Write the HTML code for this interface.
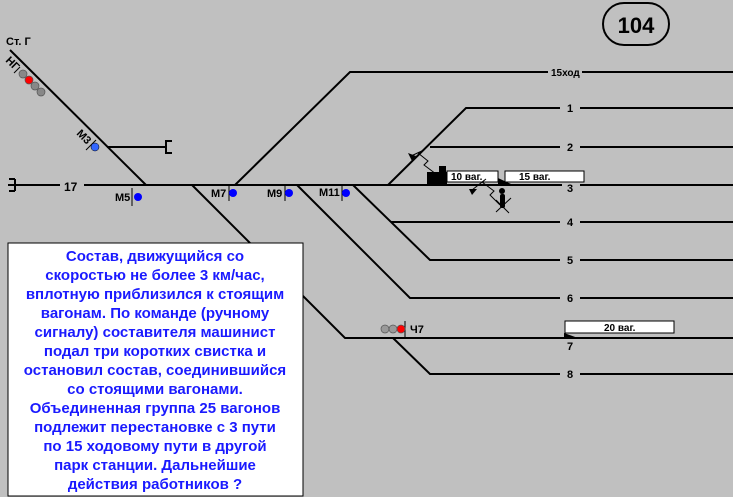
<!DOCTYPE html>
<html><head><meta charset="utf-8"><style>
body{margin:0;background:#c0c0c0;}
svg{display:block;}
text{font-family:"Liberation Sans",Arial,sans-serif;}
</style></head><body>
<svg width="733" height="497" viewBox="0 0 733 497" xmlns="http://www.w3.org/2000/svg">
<rect width="733" height="497" fill="#c0c0c0"/>
<g stroke="#000" stroke-width="2" fill="none">
<line x1="8" y1="185" x2="60" y2="185"/>
<line x1="84" y1="185" x2="562" y2="185"/>
<line x1="580" y1="185" x2="733" y2="185"/>
<path d="M15 179 h-6 M15 179 v12 M15 191 h-6" stroke-width="2"/>
<line x1="10" y1="50" x2="146" y2="185"/>
<line x1="107" y1="147" x2="166" y2="147"/>
<path d="M172 141 h-6 v12 h6"/>
<polyline points="235,185 350,72 548,72"/>
<line x1="582" y1="72" x2="733" y2="72"/>
<polyline points="388,185 466,108 560,108"/>
<line x1="580" y1="108" x2="733" y2="108"/>
<line x1="430" y1="147" x2="560" y2="147"/>
<line x1="580" y1="147" x2="733" y2="147"/>
<polyline points="353,185 430,260 560,260"/>
<line x1="580" y1="260" x2="733" y2="260"/>
<line x1="391" y1="222" x2="560" y2="222"/>
<line x1="580" y1="222" x2="733" y2="222"/>
<polyline points="297,185 410,298 560,298"/>
<line x1="580" y1="298" x2="733" y2="298"/>
<polyline points="192,185 345,338 733,338"/>
<polyline points="393,338 430,374 560,374"/>
<line x1="580" y1="374" x2="733" y2="374"/>
<line x1="132" y1="188" x2="132" y2="206" stroke-width="1"/>
<line x1="229" y1="185" x2="229" y2="201" stroke-width="1"/>
<line x1="285" y1="185" x2="285" y2="201" stroke-width="1"/>
<line x1="342" y1="185" x2="342" y2="201" stroke-width="1"/>
<line x1="405" y1="321" x2="405" y2="337" stroke-width="1"/>
<line x1="20" y1="67" x2="14" y2="73" stroke-width="1"/>
<line x1="96" y1="140" x2="86" y2="150" stroke-width="1"/>
</g>
<g font-size="11" font-weight="bold" fill="#000">
<text x="6" y="45">Ст. Г</text>
<text x="64" y="191" font-size="12">17</text>
<text x="115" y="201">М5</text>
<text x="211" y="197">М7</text>
<text x="267" y="197">М9</text>
<text x="319" y="196">М11</text>
<text x="410" y="333">Ч7</text>
<text x="551" y="76" font-size="10">15ход</text>
<text x="567" y="112">1</text>
<text x="567" y="151">2</text>
<text x="567" y="192">3</text>
<text x="567" y="226">4</text>
<text x="567" y="264">5</text>
<text x="567" y="302">6</text>
<text x="567" y="350">7</text>
<text x="567" y="378">8</text>
<text transform="translate(76,134) rotate(45)">М3</text>
<text transform="translate(5,61) rotate(45)">НГ</text>
</g>
<circle cx="138" cy="197" r="4" fill="#0000ff"/>
<circle cx="233" cy="193" r="4" fill="#0000ff"/>
<circle cx="289" cy="193" r="4" fill="#0000ff"/>
<circle cx="346" cy="193" r="4" fill="#0000ff"/>
<circle cx="95" cy="147" r="4" fill="#3366ff" stroke="#000" stroke-width="0.5"/>
<g stroke="#555" stroke-width="0.7">
<circle cx="23" cy="74" r="4" fill="#888"/>
<circle cx="29" cy="80" r="4" fill="#ff0000"/>
<circle cx="35" cy="86" r="4" fill="#888"/>
<circle cx="41" cy="92" r="4" fill="#888"/>
<circle cx="385" cy="329" r="4" fill="#999"/>
<circle cx="393" cy="329" r="4" fill="#999"/>
<circle cx="401" cy="329" r="4" fill="#ff0000"/>
</g>
<rect x="427" y="172" width="20" height="12" fill="#000"/>
<rect x="439" y="166" width="7" height="7" fill="#000"/>
<rect x="447" y="171" width="51" height="11" fill="#fff" stroke="#000" stroke-width="1"/>
<text x="451" y="180" font-size="10" font-weight="bold">10 ваг.</text>
<polygon points="498,178 498,184 511,184" fill="#000"/>
<rect x="505" y="171" width="79" height="11" fill="#fff" stroke="#000" stroke-width="1"/>
<text x="519" y="180" font-size="10" font-weight="bold">15 ваг.</text>
<rect x="565" y="321" width="109" height="12" fill="#fff" stroke="#000" stroke-width="1"/>
<text x="604" y="331" font-size="10" font-weight="bold">20 ваг.</text>
<polygon points="564,333 564,338 578,338" fill="#000"/>
<circle cx="502" cy="191" r="3" fill="#000"/>
<rect x="500" y="194" width="5" height="14" rx="2" fill="#000"/>
<g stroke="#000" stroke-width="1" fill="none">
<line x1="496" y1="212" x2="511" y2="198"/>
<line x1="496" y1="200" x2="509" y2="213"/>
<polyline points="500,205 490,195 494,191 482,182 486,179 472,190"/>
<polyline points="436,174 424,165 428,161 418,153 424,150 411,156"/>
</g>
<polygon points="469,189 477,189 472,195" fill="#000"/>
<polygon points="408,153 416,156 412,161" fill="#000"/>
<rect x="603" y="3" width="66" height="42" rx="21" fill="none" stroke="#000" stroke-width="2"/>
<text x="636" y="33" font-size="22" font-weight="bold" text-anchor="middle">104</text>
<rect x="8" y="243" width="295" height="253" fill="#fff" stroke="#000" stroke-width="1"/>
<g font-size="15" font-weight="bold" fill="#1a1aff" text-anchor="middle">
<text x="155" y="261">Состав, движущийся со</text>
<text x="155" y="280">скоростью не более 3 км/час,</text>
<text x="155" y="299">вплотную приблизился к стоящим</text>
<text x="155" y="318">вагонам. По команде (ручному</text>
<text x="155" y="337">сигналу) составителя машинист</text>
<text x="155" y="356">подал три коротких свистка и</text>
<text x="155" y="375">остановил состав, соединившийся</text>
<text x="155" y="394">со стоящими вагонами.</text>
<text x="155" y="413">Объединенная группа 25 вагонов</text>
<text x="155" y="432">подлежит перестановке с 3 пути</text>
<text x="155" y="451">по 15 ходовому пути в другой</text>
<text x="155" y="470">парк станции. Дальнейшие</text>
<text x="155" y="489">действия работников ?</text>
</g>
</svg>
</body></html>
